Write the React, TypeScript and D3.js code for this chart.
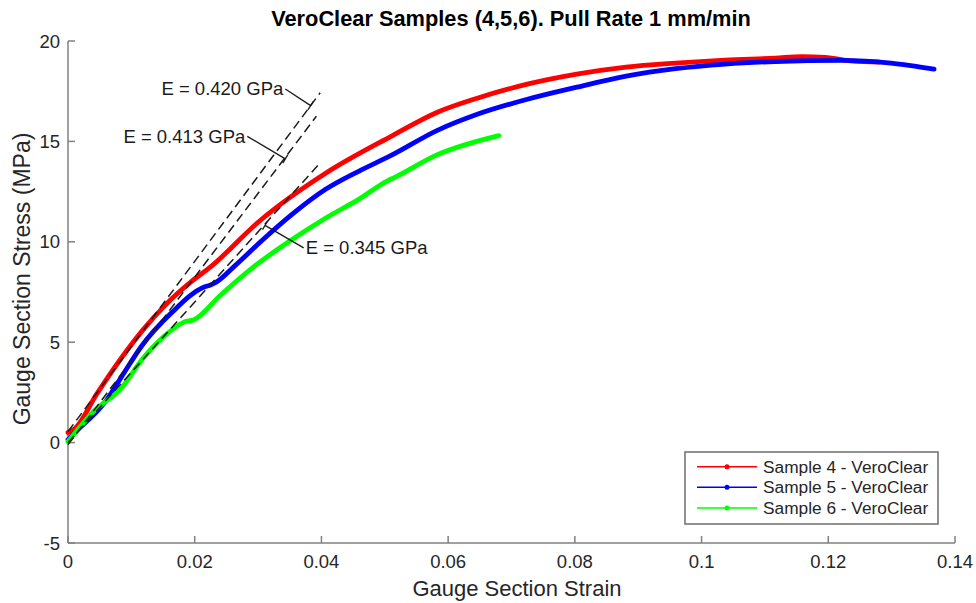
import React from "react";
import * as d3 from "d3";

const W = 976;
const H = 603;

const xTicks = [0, 0.02, 0.04, 0.06, 0.08, 0.1, 0.12, 0.14];
const yTicks = [-5, 0, 5, 10, 15, 20];

const strain4 = [0, 0.0011, 0.0045, 0.0084, 0.0118, 0.0152, 0.0196, 0.0225, 0.0301, 0.0406, 0.051, 0.0583, 0.0646, 0.0725, 0.0803, 0.0881, 0.0959, 0.1037, 0.1116, 0.1158, 0.1195, 0.124, 0.128];
const stress4 = [0.5, 0.7, 2.4, 4.2, 5.6, 6.8, 8.05, 8.75, 11.0, 13.4, 15.25, 16.45, 17.15, 17.85, 18.35, 18.7, 18.9, 19.05, 19.15, 19.22, 19.18, 19.0, 18.95];

const strain5 = [0, 0.0011, 0.0058, 0.0084, 0.0116, 0.0163, 0.0215, 0.0225, 0.0232, 0.0265, 0.0304, 0.0355, 0.0406, 0.0458, 0.051, 0.0583, 0.0646, 0.0725, 0.0803, 0.0881, 0.0959, 0.1037, 0.1116, 0.1221, 0.1299, 0.1367];
const stress5 = [0.15, 0.5, 2.0, 3.25, 4.8, 6.45, 7.75, 7.85, 7.95, 8.85, 10.0, 11.4, 12.6, 13.5, 14.3, 15.55, 16.35, 17.1, 17.7, 18.25, 18.62, 18.85, 18.98, 19.04, 18.9, 18.6];

const strain6 = [0, 0.0042, 0.0084, 0.0116, 0.0152, 0.0183, 0.0199, 0.0241, 0.0293, 0.0353, 0.0405, 0.0458, 0.0505, 0.0515, 0.0583, 0.068];
const stress6 = [0.05, 1.6, 2.7, 4.1, 5.3, 6.0, 6.12, 7.35, 8.75, 10.1, 11.15, 12.1, 13.05, 13.2, 14.34, 15.29];

const seriesNames = ["Sample 4 - VeroClear", "Sample 5 - VeroClear", "Sample 6 - VeroClear"];
const seriesColors = ["#ff0000", "#0000ff", "#00ff00"];

// Modulus fit lines: start and end points
const fitStrain0 = [0, 0, 0];
const fitStress0 = [0.55, -0.1, 0.0];
const fitStrain1 = [0.0398, 0.0392, 0.0398];
const fitStress1 = [17.42, 16.25, 13.93];

// Annotations
const annLabels = ["E = 0.420 GPa", "E = 0.413 GPa", "E = 0.345 GPa"];
const annFromX = [0.0343, 0.0283, 0.0372];
const annFromY = [17.61, 15.25, 9.7];
const annToX = [0.0383, 0.0343, 0.0311];
const annToY = [16.78, 14.13, 10.82];
const annAnchor = ["end", "end", "start"];

const FONT = "'Liberation Sans', Arial, Helvetica, sans-serif";

export default function App() {
  const left = 68;
  const right = 955;
  const top = 41;
  const bottom = 543;
  const x = d3.scaleLinear().domain([0, 0.14]).range([left, right]);
  const y = d3.scaleLinear().domain([-5, 20]).range([bottom, top]);

  const line = d3
    .line<[number, number]>()
    .x((d) => x(d[0]))
    .y((d) => y(d[1]))
    .curve(d3.curveMonotoneX);

  const series = [
    d3.zip(strain4, stress4) as [number, number][],
    d3.zip(strain5, stress5) as [number, number][],
    d3.zip(strain6, stress6) as [number, number][],
  ];

  const axisColor = "#808080";
  const textColor = "#262626";

  return (
    <svg
      width={W}
      height={H}
      style={{ position: "absolute", left: 0, top: 0, background: "#fff" }}
      fontFamily={FONT}
    >
      <rect x={0} y={0} width={W} height={H} fill="#fff" />
      {/* title */}
      <text x={511} y={26} textAnchor="middle" fontSize={21.8} fontWeight="bold" fill="#000">
        VeroClear Samples (4,5,6). Pull Rate 1 mm/min
      </text>

      {/* axes */}
      <line x1={left} x2={right} y1={bottom} y2={bottom} stroke={axisColor} strokeWidth={1.5} />
      <line x1={left} x2={left} y1={top} y2={bottom} stroke={axisColor} strokeWidth={1.5} />
      {xTicks.map((t) => (
        <g key={"xt" + t}>
          <line x1={x(t)} x2={x(t)} y1={bottom} y2={bottom - 7} stroke={axisColor} strokeWidth={1.5} />
          <text x={x(t)} y={bottom + 25} textAnchor="middle" fontSize={18.5} fill={textColor}>
            {t}
          </text>
        </g>
      ))}
      {yTicks.map((t) => (
        <g key={"yt" + t}>
          <line x1={left} x2={left + 7} y1={y(t)} y2={y(t)} stroke={axisColor} strokeWidth={1.5} />
          <text x={left - 8} y={y(t) + 6.5} textAnchor="end" fontSize={18.5} fill={textColor}>
            {t}
          </text>
        </g>
      ))}
      <text x={517} y={596} textAnchor="middle" fontSize={22} fill={textColor}>
        Gauge Section Strain
      </text>
      <text
        transform={`translate(30, 279) rotate(-90)`}
        textAnchor="middle"
        fontSize={23}
        fill={textColor}
      >
        Gauge Section Stress (MPa)
      </text>

      {/* curves */}
      {series.map((s, i) => (
        <path
          key={"s" + i}
          d={line(s) || ""}
          fill="none"
          stroke={seriesColors[i]}
          strokeWidth={4.8}
          strokeLinejoin="round"
          strokeLinecap="round"
        />
      ))}

      {/* fit lines */}
      {fitStrain0.map((_, i) => (
        <line
          key={"f" + i}
          x1={x(fitStrain0[i])}
          y1={y(fitStress0[i])}
          x2={x(fitStrain1[i])}
          y2={y(fitStress1[i])}
          stroke="#1a1a1a"
          strokeWidth={1.5}
          strokeDasharray="9,5"
        />
      ))}

      {/* annotations */}
      {annLabels.map((lab, i) => {
        const x0 = x(annFromX[i]);
        const y0 = y(annFromY[i]);
        const x1 = x(annToX[i]);
        const y1 = y(annToY[i]);
        const dx = x1 - x0;
        const dy = y1 - y0;
        const len = Math.sqrt(dx * dx + dy * dy);
        const px = (-dy / len) * 5;
        const py = (dx / len) * 5;
        const tx = annAnchor[i] === "end" ? x0 - 2 : x0 + 2;
        return (
          <g key={"a" + i}>
            <line x1={x0} y1={y0} x2={x1} y2={y1} stroke="#1a1a1a" strokeWidth={1.3} />
            <line x1={x1 - px} y1={y1 - py} x2={x1 + px} y2={y1 + py} stroke="#1a1a1a" strokeWidth={1.3} />
            <text x={tx} y={y0 + 6.5} textAnchor={annAnchor[i] as any} fontSize={18.5} fill="#1a1a1a">
              {lab}
            </text>
          </g>
        );
      })}

      {/* legend */}
      <rect x={685} y={452} width={253} height={72} fill="#fff" stroke="#6e6e6e" strokeWidth={1.5} />
      {seriesNames.map((n, i) => {
        const ly = 466.7 + i * 20.6;
        return (
          <g key={"l" + i}>
            <line x1={697} x2={757} y1={ly} y2={ly} stroke={seriesColors[i]} strokeWidth={1.5} />
            <circle cx={727} cy={ly} r={2.5} fill={seriesColors[i]} />
            <text x={763} y={ly + 6} fontSize={17.3} fill={textColor}>
              {n}
            </text>
          </g>
        );
      })}
    </svg>
  );
}
